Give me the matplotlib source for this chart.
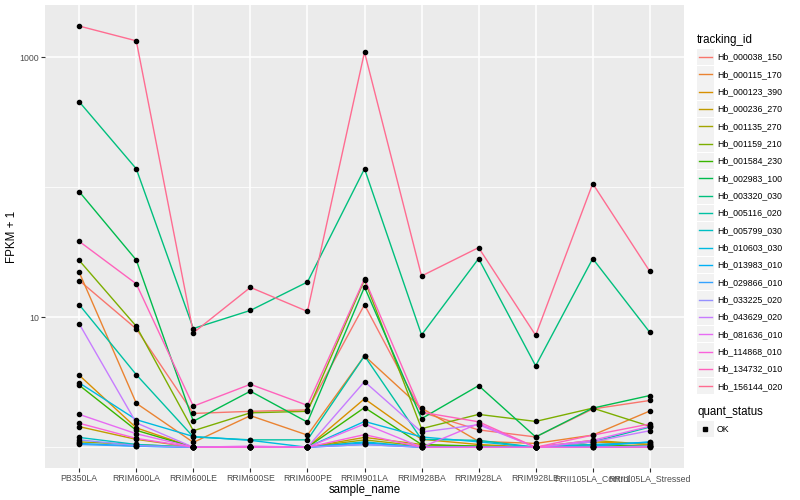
import numpy as np
import matplotlib
matplotlib.use("Agg")
import matplotlib.pyplot as plt
from matplotlib.patches import Rectangle

plt.rcParams['font.family'] = ['Liberation Sans', 'DejaVu Sans']

# samples on the x axis
samples = ['PB350LA', 'RRIM600LA', 'RRIM600LE', 'RRIM600SE', 'RRIM600PE', 'RRIM901LA',
           'RRIM928BA', 'RRIM928LA', 'RRIM928LE', 'RRII105LA_Control', 'RRII105LA_Stressed']

tracking_ids = ['Hb_000038_150', 'Hb_000115_170', 'Hb_000123_390', 'Hb_000236_270',
                'Hb_001135_270', 'Hb_001159_210', 'Hb_001584_230', 'Hb_002983_100',
                'Hb_003320_030', 'Hb_005116_020', 'Hb_005799_030', 'Hb_010603_030',
                'Hb_013983_010', 'Hb_029866_010', 'Hb_033225_020', 'Hb_043629_020',
                'Hb_081636_010', 'Hb_114868_010', 'Hb_134732_010', 'Hb_156144_020']

# ggplot hue palette, 20 levels
colors = ['#F8766D', '#EA8331', '#D89000', '#C09B00', '#A3A500', '#7CAE00', '#39B600',
          '#00BB4E', '#00BF7D', '#00C1A3', '#00BFC4', '#00BAE0', '#00B0F6', '#35A2FF',
          '#9590FF', '#C77CFF', '#E76BF3', '#FA62DB', '#FF62BC', '#FF6C91']

# FPKM + 1, one list per tracking id
hb_000038_150 = [19.2, 8.15, 1.82, 1.89, 1.94, 12.5, 1.86, 1.36, 1.20, 1.97, 2.29]
hb_000115_170 = [22.2, 2.18, 1.09, 1.75, 1.24, 5.05, 2.00, 1.11, 1.07, 1.24, 1.90]
hb_000123_390 = [3.58, 1.41, 1.00, 1.00, 1.00, 2.36, 1.15, 1.05, 1.00, 1.10, 1.05]
hb_000236_270 = [1.44, 1.15, 1.00, 1.00, 1.00, 1.19, 1.05, 1.00, 1.00, 1.13, 1.05]
hb_001135_270 = [1.10, 1.05, 1.00, 1.00, 1.00, 1.14, 1.02, 1.02, 1.00, 1.02, 1.02]
hb_001159_210 = [27.4, 8.53, 1.34, 1.84, 1.89, 19.4, 1.39, 1.79, 1.58, 2.00, 1.45]
hb_001584_230 = [3.00, 1.35, 1.00, 1.00, 1.00, 2.02, 1.05, 1.02, 1.00, 1.05, 1.02]
hb_002983_100 = [92.7, 27.6, 1.585, 2.70, 1.56, 17.1, 1.66, 2.98, 1.20, 2.00, 2.50]
hb_003320_030 = [456, 139, 8.2, 11.3, 18.7, 139, 7.32, 28.3, 4.23, 28.3, 7.67]
hb_005116_020 = [12.5, 3.62, 1.20, 1.14, 1.14, 5.05, 1.15, 1.13, 1.00, 1.10, 1.43]
hb_005799_030 = [1.19, 1.05, 1.00, 1.00, 1.00, 1.10, 1.00, 1.00, 1.00, 1.00, 1.00]
hb_010603_030 = [3.13, 1.63, 1.21, 1.13, 1.00, 1.58, 1.20, 1.10, 1.00, 1.05, 1.09]
hb_013983_010 = [1.07, 1.02, 1.00, 1.00, 1.00, 1.08, 1.00, 1.00, 1.00, 1.02, 1.10]
hb_029866_010 = [1.05, 1.02, 1.00, 1.00, 1.00, 1.05, 1.00, 1.00, 1.00, 1.00, 1.02]
hb_033225_020 = [1.14, 1.03, 1.00, 1.00, 1.00, 1.05, 1.00, 1.00, 1.00, 1.00, 1.02]
hb_043629_020 = [8.9, 1.54, 1.00, 1.00, 1.00, 3.20, 1.31, 1.49, 1.00, 1.10, 1.34]
hb_081636_010 = [1.79, 1.27, 1.00, 1.02, 1.00, 1.51, 1.00, 1.52, 1.00, 1.13, 1.45]
hb_114868_010 = [1.53, 1.17, 1.00, 1.00, 1.00, 1.25, 1.00, 1.00, 1.00, 1.00, 1.00]
hb_134732_010 = [38.4, 18.1, 2.07, 3.05, 2.10, 19.8, 1.86, 1.57, 1.00, 1.24, 1.51]
hb_156144_020 = [1745, 1343, 7.6, 17.0, 11.1, 1100, 20.8, 34.4, 7.27, 107, 22.6]

series = [hb_000038_150, hb_000115_170, hb_000123_390, hb_000236_270, hb_001135_270,
          hb_001159_210, hb_001584_230, hb_002983_100, hb_003320_030, hb_005116_020,
          hb_005799_030, hb_010603_030, hb_013983_010, hb_029866_010, hb_033225_020,
          hb_043629_020, hb_081636_010, hb_114868_010, hb_134732_010, hb_156144_020]

fig = plt.figure(figsize=(8, 5), dpi=100)
ax = fig.add_axes([45 / 800, 1 - 468.3 / 500, (684 - 45) / 800, (468.3 - 5) / 500])
ax.set_facecolor('#EBEBEB')

x = np.arange(len(samples))
for vals, col in zip(series, colors):
    ax.plot(x, vals, color=col, lw=1.0, zorder=3)
for vals in series:
    ax.plot(x, vals, ls='none', marker='o', ms=3.0, color='black', zorder=4)

ax.set_yscale('log')
allv = np.concatenate([np.array(s, dtype=float) for s in series])
lo, hi = np.log10(allv.min()), np.log10(allv.max())
pad = 0.05 * (hi - lo)
ax.set_ylim(10 ** (lo - pad), 10 ** (hi + pad))
ax.set_xlim(-0.6, len(samples) - 0.4)

ax.set_yticks([10, 1000])
ax.set_yticklabels(['10', '1000'])
ax.set_yticks([1, 100], minor=True)
ax.yaxis.set_minor_formatter(matplotlib.ticker.NullFormatter())
ax.set_xticks(x)
ax.set_xticklabels(samples)

ax.grid(True, which='major', color='white', lw=1.1, zorder=0)
ax.grid(True, which='minor', axis='y', color='white', lw=0.55, zorder=0)
ax.set_axisbelow(True)
for s in ax.spines.values():
    s.set_visible(False)
ax.tick_params(axis='both', which='major', length=2.6, width=0.8, color='#333333',
               labelsize=6.3, labelcolor='#4D4D4D', pad=1.5)
ax.tick_params(axis='y', which='minor', length=0)
ax.set_xlabel('sample_name', fontsize=8.3, labelpad=0.5)
ax.set_ylabel('FPKM + 1', fontsize=8.3, labelpad=1.5)

# legends, drawn on an overlay axes in pixel units
lg = fig.add_axes([0, 0, 1, 1])
lg.set_xlim(0, 800)
lg.set_ylim(500, 0)
lg.axis('off')
lg.text(697, 40, 'tracking_id', fontsize=8.3, va='center', ha='left')
step = 17.33
for i, (name, col) in enumerate(zip(tracking_ids, colors)):
    yc = 57 + step * i
    lg.add_patch(Rectangle((697, yc - 8.2), 16.6, 16.4, color='#F2F2F2', lw=0))
    lg.plot([698.5, 712], [yc, yc], color=col, lw=1.0)
    lg.text(717, yc, name, fontsize=6.3, va='center', ha='left')

lg.text(697, 412, 'quant_status', fontsize=8.3, va='center', ha='left')
lg.add_patch(Rectangle((697, 429 - 8.2), 16.6, 16.4, color='#F2F2F2', lw=0))
lg.plot([705.3], [429], ls='none', marker='s', ms=2.6, color='black')
lg.text(717, 429, 'OK', fontsize=6.3, va='center', ha='left')

fig.savefig('out.png', dpi=100)
